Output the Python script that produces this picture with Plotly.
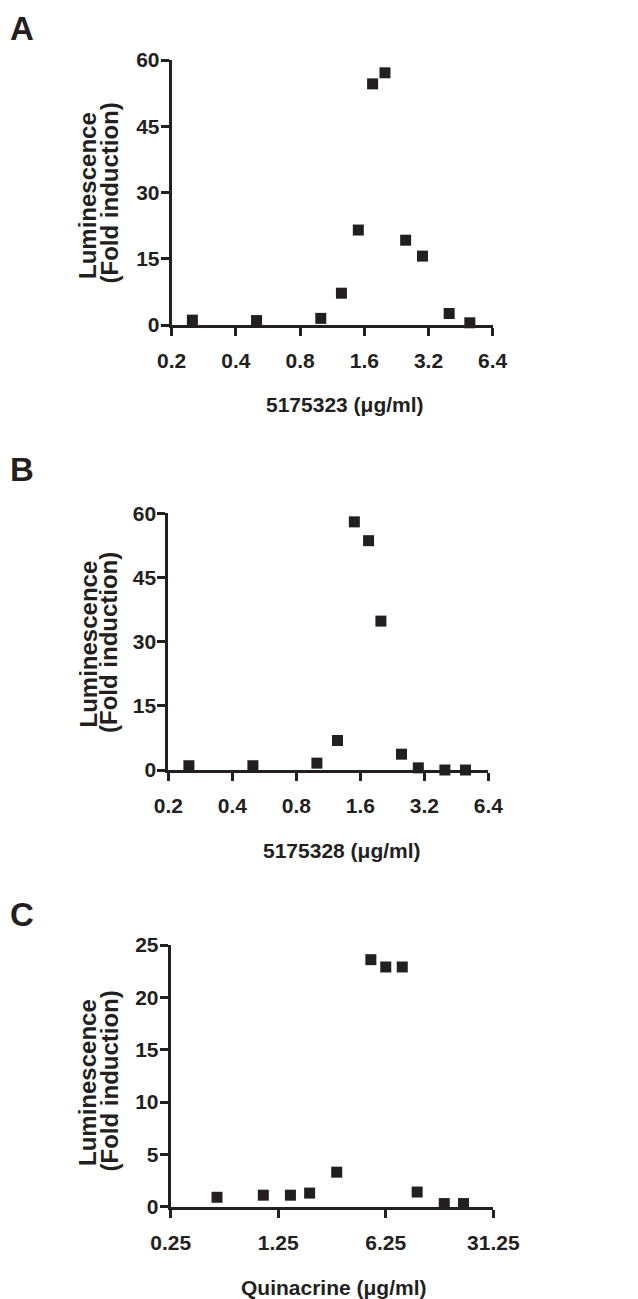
import math
import plotly.graph_objects as go

# The page body adds an 8px margin, so the figure is drawn 8px smaller
# and all pixel positions are shifted by that offset.
OFF = 8
W, H = 638 - OFF, 1299 - OFF

# ---------------- data ----------------
conc_a = [0.25, 0.5, 1.0, 1.25, 1.5, 1.75, 2.0, 2.5, 3.0, 4.0, 5.0]
lum_a = [1.1, 1.0, 1.5, 7.2, 21.5, 54.6, 57.1, 19.2, 15.6, 2.6, 0.5]

conc_b = [0.25, 0.5, 1.0, 1.25, 1.5, 1.75, 2.0, 2.5, 3.0, 4.0, 5.0]
lum_b = [1.0, 1.0, 1.6, 6.9, 58.0, 53.6, 34.8, 3.7, 0.5, 0.0, 0.0]

conc_c = [0.5, 1.0, 1.5, 2.0, 3.0, 5.0, 6.25, 8.0, 10.0, 15.0, 20.0]
lum_c = [0.9, 1.1, 1.1, 1.3, 3.3, 23.6, 22.9, 22.9, 1.4, 0.3, 0.3]

xticks_ab = [0.2, 0.4, 0.8, 1.6, 3.2, 6.4]
xticks_c = [0.25, 1.25, 6.25, 31.25]
yticks_ab = [0, 15, 30, 45, 60]
yticks_c = [0, 5, 10, 15, 20, 25]

xlabels = ["5175323 (\u03bcg/ml)", "5175328 (\u03bcg/ml)", "Quinacrine (\u03bcg/ml)"]
ytitle1 = "Luminescence"
ytitle2 = "(Fold induction)"
panel_letters = ["A", "B", "C"]

# ---------------- style ----------------
INK = "#231f20"
FONT = "Arial, 'Liberation Sans', sans-serif"


def px_x(px):
    return (px - OFF) / W


def px_y(px):
    return 1 - (px - OFF) / H


# panel geometry in reference pixels: (x_left, x_right, y_top, y_bottom)
geo = [
    (171.7, 492.7, 60.0, 325.0),
    (168.3, 488.3, 513.3, 770.0),
    (170.7, 493.3, 945.0, 1206.7),
]

fig = go.Figure()

series = [(conc_a, lum_a), (conc_b, lum_b), (conc_c, lum_c)]
for i, (cx, ly) in enumerate(series):
    suffix = "" if i == 0 else str(i + 1)
    fig.add_trace(go.Scatter(
        x=cx, y=ly, mode="markers",
        marker=dict(symbol="square", size=11, color=INK),
        xaxis="x" + suffix, yaxis="y" + suffix,
        cliponaxis=False, showlegend=False,
    ))

layout_axes = {}
for i, (xl, xr, yt, yb) in enumerate(geo):
    suffix = "" if i == 0 else str(i + 1)
    xt = xticks_c if i == 2 else xticks_ab
    yt_vals = yticks_c if i == 2 else yticks_ab
    layout_axes["xaxis" + suffix] = dict(
        type="log",
        domain=[px_x(xl), px_x(xr)],
        range=[math.log10(xt[0]), math.log10(xt[-1])],
        anchor="y" + suffix,
        tickmode="array", tickvals=xt, ticktext=[f"{v:g}" for v in xt],
        ticks="outside", ticklen=8, tickwidth=3, tickcolor=INK,
        showline=True, linewidth=3, linecolor=INK,
        showgrid=False, zeroline=False,
        tickfont=dict(family=FONT, size=21, color=INK, weight="bold"),
        ticklabelstandoff=7,
        automargin=False,
    )
    layout_axes["yaxis" + suffix] = dict(
        domain=[px_y(yb), px_y(yt)],
        range=[yt_vals[0], yt_vals[-1]],
        anchor="x" + suffix,
        tickmode="array", tickvals=yt_vals,
        ticks="outside", ticklen=8, tickwidth=3, tickcolor=INK,
        showline=True, linewidth=3, linecolor=INK,
        showgrid=False, zeroline=False,
        tickfont=dict(family=FONT, size=21, color=INK, weight="bold"),
        ticklabelstandoff=-3,
        automargin=False,
    )

annotations = []
# y-axis titles: (line1 x, line1 y, line2 x, line2 y)
ytitle_pos = [
    (87.5, 195.5, 108.5, 193.0),
    (87.5, 644.0, 108.5, 642.5),
    (87.5, 1082.5, 109.0, 1081.5),
]
for (x1, y1, x2, y2) in ytitle_pos:
    annotations.append(dict(
        text=ytitle1, x=px_x(x1), y=px_y(y1), xref="paper", yref="paper",
        xanchor="center", yanchor="middle", textangle=-90, showarrow=False,
        font=dict(family=FONT, size=24, color=INK, weight="bold"),
    ))
    annotations.append(dict(
        text=ytitle2, x=px_x(x2), y=px_y(y2), xref="paper", yref="paper",
        xanchor="center", yanchor="middle", textangle=-90, showarrow=False,
        font=dict(family=FONT, size=24, color=INK, weight="bold"),
    ))

# x-axis titles
xtitle_pos = [(344.5, 405.0), (341.5, 850.0), (334.0, 1287.0)]
for lbl, (x, y) in zip(xlabels, xtitle_pos):
    annotations.append(dict(
        text=lbl, x=px_x(x), y=px_y(y), xref="paper", yref="paper",
        xanchor="center", yanchor="middle", showarrow=False,
        font=dict(family=FONT, size=21, color=INK, weight="bold"),
    ))

# panel letters (left-anchored at the page edge)
letter_pos = [(8.0, 8.0, "top"), (8.0, 470.0, "middle"), (8.0, 914.0, "middle")]
for lt, (x, y, ya) in zip(panel_letters, letter_pos):
    annotations.append(dict(
        text=lt, x=px_x(x), y=px_y(y), xref="paper", yref="paper",
        xanchor="left", yanchor=ya, showarrow=False,
        font=dict(family=FONT, size=33, color=INK, weight="bold"),
    ))

fig.update_layout(
    width=W, height=H,
    margin=dict(l=0, r=0, t=0, b=0, pad=0),
    paper_bgcolor="white", plot_bgcolor="white",
    showlegend=False,
    annotations=annotations,
    **layout_axes,
)

fig.write_html("out.html")
